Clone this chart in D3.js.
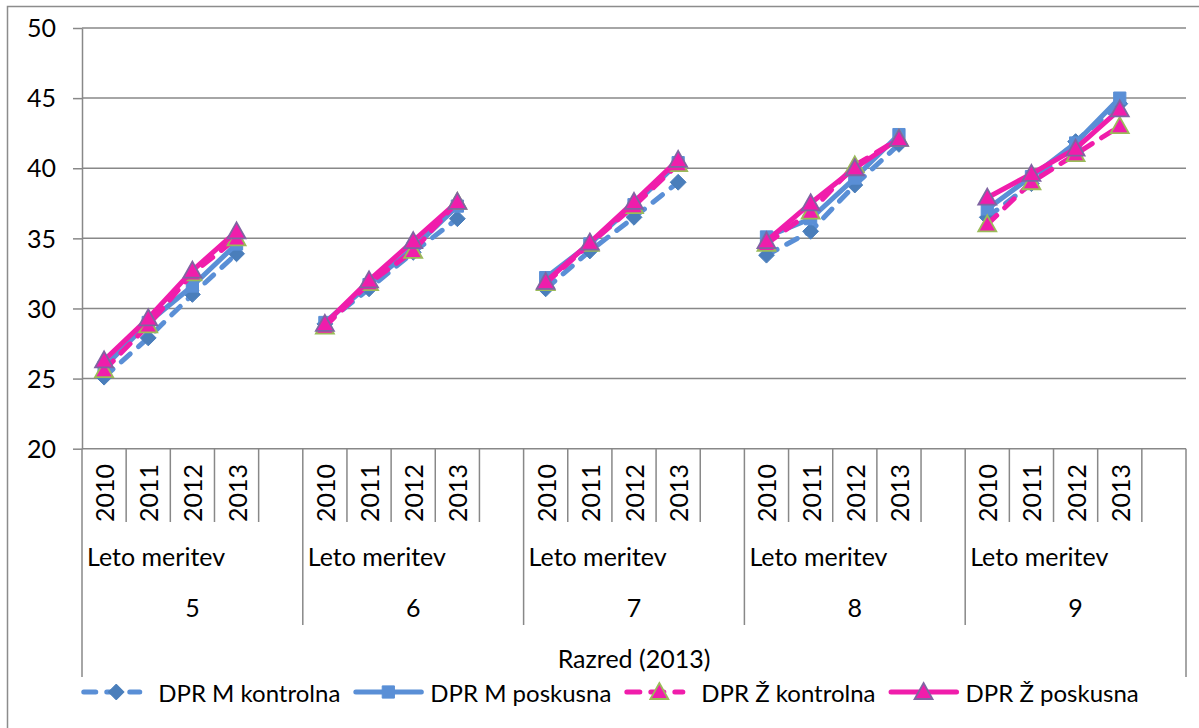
<!DOCTYPE html>
<html>
<head>
<meta charset="utf-8">
<script src="https://cdn.jsdelivr.net/npm/d3@7"></script>
<style>
  html, body { margin: 0; padding: 0; background: #fff; }
  svg { display: block; }
  text { font-family: Lato, "Open Sans", sans-serif; fill: #000; }
</style>
</head>
<body>
<svg id="chart" width="1199" height="728"></svg>
<script>
// Razred (grade) groups and measurement years inside each group
const grades = ["5", "6", "7", "8", "9"];
const years = ["2010", "2011", "2012", "2013"];
const slots = ["2010", "2011", "2012", "2013", ""]; // blank slot separates grades

const yTicks = [20, 25, 30, 35, 40, 45, 50];

// Mean DPR per grade (rows) and year (columns)
const mKontrolna = [
  [25.1, 27.9, 31.0, 33.9],
  [28.9, 31.4, 34.0, 36.4],
  [31.4, 34.1, 36.5, 39.0],
  [33.8, 35.5, 38.8, 41.7],
  [36.5, 38.9, 41.9, 44.6]
];
const mPoskusna = [
  [25.8, 29.0, 31.6, 34.6],
  [29.0, 31.7, 34.3, 37.3],
  [32.2, 34.6, 37.4, 40.4],
  [35.1, 36.4, 39.3, 42.4],
  [37.1, 39.4, 41.8, 45.0]
];
const zKontrolna = [
  [25.6, 28.8, 32.5, 35.0],
  [28.7, 31.8, 34.1, 37.6],
  [31.8, 34.6, 37.3, 40.3],
  [34.6, 36.9, 40.2, 42.1],
  [36.0, 39.0, 41.0, 43.0]
];
const zPoskusna = [
  [26.3, 29.3, 32.7, 35.5],
  [28.9, 32.0, 34.8, 37.6],
  [31.9, 34.7, 37.6, 40.6],
  [34.8, 37.5, 40.0, 42.1],
  [37.9, 39.6, 41.4, 44.2]
];

const seriesNames = ["DPR M kontrolna", "DPR M poskusna", "DPR Ž kontrolna", "DPR Ž poskusna"];

const blue = "#5A8FD6", blueDark = "#4A7EBB", pink = "#F01DAB";
const series = [
  { name: seriesNames[0], values: mKontrolna, color: blue, dash: "12,11", marker: "diamond", fill: blueDark, stroke: blueDark },
  { name: seriesNames[1], values: mPoskusna, color: blue, dash: null, marker: "square", fill: blue, stroke: blue },
  { name: seriesNames[2], values: zKontrolna, color: pink, dash: "13,11", marker: "triangle", fill: pink, stroke: "#9BBB59" },
  { name: seriesNames[3], values: zPoskusna, color: pink, dash: null, marker: "triangle", fill: pink, stroke: "#8064A2" }
];

const svg = d3.select("#chart");
const FS = 25, legendFS = 24;
const gridColor = "#888888";

// chart frame
svg.append("rect")
  .attr("x", 7.5).attr("y", 6.5).attr("width", 1210).attr("height", 740)
  .attr("fill", "none").attr("stroke", "#8c8c8c").attr("stroke-width", 1.5);

const plotLeft = 82, plotRight = 1186, plotTop = 28, plotBottom = 448.7;

const keys = [];
grades.forEach(g => slots.forEach(s => keys.push(g + "|" + s)));
const x = d3.scaleBand().domain(keys).range([plotLeft, plotRight]).padding(0);
const xg = d3.scaleBand().domain(grades).range([plotLeft, plotRight]).padding(0);
const y = d3.scaleLinear().domain([20, 50]).range([plotBottom, plotTop]);

// horizontal gridlines
svg.append("g").selectAll("line").data(yTicks).join("line")
  .attr("x1", plotLeft).attr("x2", plotRight)
  .attr("y1", d => y(d)).attr("y2", d => y(d))
  .attr("stroke", gridColor).attr("stroke-width", 1.5);

// value axis
const yAxis = svg.append("g")
  .attr("transform", `translate(${plotLeft},0)`)
  .call(d3.axisLeft(y).tickValues(yTicks).tickFormat(d3.format("d")).tickSize(9).tickSizeOuter(0).tickPadding(17));
yAxis.select(".domain").attr("stroke", gridColor).attr("stroke-width", 1.5);
yAxis.selectAll(".tick line").attr("stroke", gridColor).attr("stroke-width", 1.5);
yAxis.selectAll(".tick text").attr("font-size", FS).attr("font-family", null).attr("fill", "#000").attr("dy", "0.35em");

// multi-level category axis
const cat = svg.append("g");
const lvl1 = 522, lvl3 = 625, lvl4 = 677;
// boundaries between slots
keys.forEach((k, i) => {
  if (i === 0) return;
  const bx = x(k);
  const isGroup = k.endsWith("|2010");
  cat.append("line")
    .attr("x1", bx).attr("x2", bx).attr("y1", plotBottom).attr("y2", isGroup ? lvl3 : lvl1)
    .attr("stroke", gridColor).attr("stroke-width", 1.5);
});
[plotLeft, plotRight].forEach(bx => {
  cat.append("line")
    .attr("x1", bx).attr("x2", bx).attr("y1", plotBottom).attr("y2", lvl4)
    .attr("stroke", gridColor).attr("stroke-width", 1.5);
});

// year labels (rotated)
grades.forEach(g => years.forEach(yr => {
  const cx = x(g + "|" + yr) + x.bandwidth() / 2;
  cat.append("text")
    .attr("transform", `translate(${cx},493) rotate(-90)`)
    .attr("text-anchor", "middle").attr("dominant-baseline", "central")
    .attr("font-size", FS).text(yr);
}));
// "Leto meritev" and grade labels
grades.forEach(g => {
  cat.append("text")
    .attr("x", xg(g) + 5).attr("y", 556)
    .attr("dominant-baseline", "central")
    .attr("font-size", FS).text("Leto meritev");
  cat.append("text")
    .attr("x", xg(g) + xg.bandwidth() / 2).attr("y", 607)
    .attr("text-anchor", "middle").attr("dominant-baseline", "central")
    .attr("font-size", FS).text(g);
});
cat.append("text")
  .attr("x", (plotLeft + plotRight) / 2).attr("y", 658)
  .attr("text-anchor", "middle").attr("dominant-baseline", "central")
  .attr("font-size", FS).text("Razred (2013)");

// marker shapes
const markerPath = {
  diamond: d3.symbol().type(d3.symbolDiamond2).size(160)(),
  square: d3.symbol().type(d3.symbolSquare2).size(190)(),
  triangle: "M0,-9L9,7L-9,7Z"
};

const line = d3.line().x(d => d.x).y(d => d.y);

series.forEach(s => {
  const g = svg.append("g");
  s.values.forEach((row, gi) => {
    const pts = row.map((v, yi) => ({
      x: x(grades[gi] + "|" + years[yi]) + x.bandwidth() / 2,
      y: y(v)
    }));
    g.append("path").datum(pts)
      .attr("d", line)
      .attr("fill", "none").attr("stroke", s.color).attr("stroke-width", 5)
      .attr("stroke-linecap", "round").attr("stroke-linejoin", "round")
      .attr("stroke-dasharray", s.dash);
    g.selectAll(null).data(pts).join("path")
      .attr("transform", d => `translate(${d.x},${d.y})`)
      .attr("d", markerPath[s.marker])
      .attr("fill", s.fill).attr("stroke", s.stroke)
      .attr("stroke-width", s.marker === "triangle" ? 1.8 : 1);
  });
});

// legend
const legend = svg.append("g");
const itemGap = 13, symbolW = 77;
const items = series.map(s => {
  const t = legend.append("text").attr("font-size", legendFS).attr("dominant-baseline", "central").attr("y", 692).text(s.name);
  return { s, t, w: t.node().getComputedTextLength() };
});
const totalW = d3.sum(items, d => symbolW + d.w) + itemGap * (items.length - 1);
let lx = 610 - totalW / 2;
items.forEach(({ s, t, w }) => {
  const dashed = !!s.dash;
  legend.append("line")
    .attr("x1", lx + 2.5).attr("x2", lx + (dashed ? 58.5 : 68))
    .attr("y1", 692).attr("y2", 692)
    .attr("stroke", s.color).attr("stroke-width", 5)
    .attr("stroke-linecap", "round")
    .attr("stroke-dasharray", s.dash);
  legend.append("path")
    .attr("transform", `translate(${lx + 35},692)`)
    .attr("d", markerPath[s.marker])
    .attr("fill", s.fill).attr("stroke", s.stroke)
    .attr("stroke-width", s.marker === "triangle" ? 1.8 : 1);
  t.attr("x", lx + symbolW);
  lx += symbolW + w + itemGap;
});
</script>
</body>
</html>
